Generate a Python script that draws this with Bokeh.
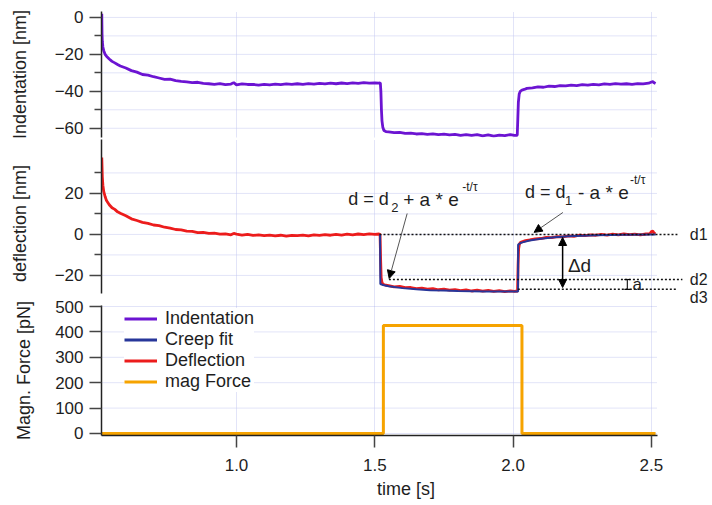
from bokeh.plotting import figure
from bokeh.layouts import column
from bokeh.models import (Range1d, FixedTicker, Grid, Label, Arrow, NormalHead, TeeHead,
                          Legend, LegendItem, NumeralTickFormatter)
from bokeh.embed import file_html
from bokeh.resources import INLINE

# ---------------- data ----------------
ind_t = [0.513, 0.5135, 0.514, 0.515, 0.517, 0.520, 0.525, 0.53, 0.54, 0.55, 0.56, 0.57, 0.58,
         0.60, 0.62, 0.64, 0.66, 0.68, 0.70, 0.72, 0.74, 0.76, 0.78, 0.80, 0.82, 0.84, 0.86,
         0.88, 0.90, 0.92, 0.94, 0.96, 0.98, 0.99, 1.00, 1.02, 1.04, 1.06, 1.08, 1.10, 1.12,
         1.14, 1.16, 1.18, 1.20, 1.22, 1.24, 1.26, 1.28, 1.30, 1.32, 1.34, 1.36, 1.38, 1.40,
         1.42, 1.44, 1.46, 1.48, 1.50, 1.515, 1.52, 1.522, 1.524, 1.526, 1.529, 1.533, 1.54,
         1.55, 1.57, 1.59, 1.61, 1.63, 1.65, 1.67, 1.69, 1.71, 1.73, 1.75, 1.77, 1.79, 1.81,
         1.83, 1.85, 1.87, 1.89, 1.91, 1.93, 1.95, 1.97, 1.99, 2.005, 2.015, 2.017, 2.019,
         2.022, 2.026, 2.032, 2.04, 2.05, 2.07, 2.09, 2.11, 2.13, 2.15, 2.17, 2.19, 2.21, 2.23,
         2.25, 2.27, 2.29, 2.31, 2.33, 2.35, 2.37, 2.39, 2.41, 2.43, 2.45, 2.47, 2.49, 2.50,
         2.505, 2.51, 2.515]
ind_nm = [2.0, -4.0, -9.0, -13.0, -16.0, -18.0, -20.0, -21.0, -22.5, -23.8, -24.6, -25.5, -26.3,
          -27.4, -28.8, -29.6, -30.9, -31.2, -32.1, -32.8, -33.5, -33.4, -34.2, -34.6, -34.9,
          -35.3, -35.1, -35.7, -35.9, -36.2, -35.8, -36.4, -36.1, -35.3, -36.5, -36.0, -36.3,
          -36.3, -36.6, -36.2, -36.5, -36.1, -36.4, -36.0, -36.3, -35.9, -36.2, -35.8, -36.1,
          -35.7, -36.0, -35.6, -35.9, -35.5, -35.8, -35.4, -35.7, -35.3, -35.6, -35.4, -35.6,
          -35.4, -40.0, -50.0, -56.0, -59.5, -61.2, -61.8, -62.0, -62.4, -62.2, -62.8, -62.6,
          -63.1, -62.9, -63.3, -63.0, -63.5, -63.2, -63.6, -63.3, -63.8, -63.4, -63.9, -63.5,
          -64.1, -63.6, -64.2, -63.7, -64.0, -63.4, -63.9, -63.8, -55.0, -46.0, -41.5, -40.0,
          -39.3, -39.0, -38.4, -38.1, -37.6, -37.8, -37.2, -37.4, -36.9, -37.1, -36.6, -36.9,
          -36.4, -36.7, -36.2, -36.5, -36.0, -36.3, -35.8, -36.1, -35.9, -36.2, -35.8, -36.0,
          -35.6, -35.0, -34.8, -35.4, -35.8]

defl_t = [0.513, 0.514, 0.515, 0.517, 0.52, 0.525, 0.53, 0.54, 0.55, 0.56, 0.57, 0.58, 0.60,
          0.62, 0.64, 0.66, 0.68, 0.70, 0.72, 0.74, 0.76, 0.78, 0.80, 0.82, 0.84, 0.86, 0.88,
          0.90, 0.92, 0.94, 0.96, 0.98, 0.99, 1.00, 1.02, 1.04, 1.06, 1.08, 1.10, 1.12, 1.14,
          1.16, 1.18, 1.20, 1.22, 1.24, 1.26, 1.28, 1.30, 1.32, 1.34, 1.36, 1.38, 1.40, 1.42,
          1.44, 1.46, 1.48, 1.50, 1.515, 1.519, 1.521, 1.523, 1.526, 1.53, 1.54, 1.55, 1.57,
          1.59, 1.61, 1.63, 1.65, 1.67, 1.69, 1.71, 1.73, 1.75, 1.77, 1.79, 1.81, 1.83, 1.85,
          1.87, 1.89, 1.91, 1.93, 1.95, 1.97, 1.99, 2.005, 2.016, 2.018, 2.020, 2.023, 2.027,
          2.035, 2.045, 2.06, 2.08, 2.10, 2.12, 2.14, 2.16, 2.18, 2.20, 2.22, 2.24, 2.26, 2.28,
          2.30, 2.32, 2.34, 2.36, 2.38, 2.40, 2.42, 2.44, 2.46, 2.48, 2.495, 2.50, 2.505, 2.51,
          2.515]
defl_nm = [37.5, 33.0, 28.0, 24.0, 21.0, 18.5, 16.5, 14.5, 13.0, 12.2, 11.0, 10.3, 9.1, 7.6,
           6.8, 5.9, 5.4, 4.6, 4.3, 3.5, 3.1, 2.4, 2.2, 1.6, 1.5, 0.9, 1.0, 0.5, 0.6, 0.1, 0.3,
           -0.2, 0.5, 0.1, -0.4, 0.0, -0.5, -0.2, -0.6, -0.3, -0.7, -0.4, -0.8, -0.5, -0.6, -0.3,
           -0.7, -0.2, -0.5, -0.1, -0.4, 0.0, -0.3, 0.1, -0.2, 0.2, -0.1, 0.3, 0.0, 0.2, 0.0,
           -12.0, -21.0, -23.5, -24.3, -24.8, -25.0, -25.6, -25.4, -26.0, -25.9, -26.4, -26.2,
           -26.7, -26.5, -27.0, -26.7, -27.2, -26.9, -27.4, -27.0, -27.6, -27.2, -27.7, -27.3,
           -27.8, -27.4, -27.9, -27.5, -27.8, -27.6, -15.0, -7.0, -4.6, -3.9, -3.5, -3.0, -2.7,
           -2.2, -2.0, -1.5, -1.6, -1.1, -1.2, -0.7, -0.9, -0.4, -0.6, -0.2, -0.4, 0.0, -0.3,
           0.1, -0.2, 0.2, -0.1, 0.1, -0.2, 0.2, 0.4, 1.4, 1.6, 0.6, 0.3]

fit_t = [1.519, 1.5201, 1.53, 1.55, 1.60, 1.65, 1.70, 1.75, 1.80, 1.90, 2.00, 2.018, 2.0181,
         2.03, 2.06, 2.10, 2.15, 2.20, 2.25, 2.30, 2.40, 2.515]
fit_nm = [0.0, -24.2, -24.7, -25.3, -26.2, -26.8, -27.2, -27.4, -27.6, -27.8, -27.9, -27.9,
          -5.0, -4.0, -3.0, -2.1, -1.4, -0.9, -0.6, -0.4, -0.2, 0.0]

force_t = [0.513, 1.531, 1.531, 2.032, 2.032, 2.515]
force_pN = [0, 0, 425, 425, 0, 0]

x_ticks = [1.0, 1.5, 2.0, 2.5]
ind_ticks = [0, -20, -40, -60]
ind_minor = [-10, -30, -50]
defl_ticks = [20, 0, -20]
defl_minor = [30, 10, -10]
force_ticks = [0, 100, 200, 300, 400, 500]

d_levels = [0.0, -22.0, -26.8]           # d1, d2, d3
d_names = ["d1", "d2", "d3"]
d_label_shift = [0, 0, -8]               # px, d3 label sits just under its line
level_x0 = [1.517, 1.551, 2.017]
level_x1 = [2.594, 2.612, 2.594]

# ---------------- style ----------------
FONT = "Liberation Sans"
TXT = "#1e1e1e"
C_IND = "#6c14d2"
C_FIT = "#27369a"
C_DEF = "#ec1c1c"
C_FOR = "#f6a300"
GRID = "#c4c8f0"

LEFT = 101          # frame left edge (px)
RIGHT_B = 0         # right border (px)
W = 710             # figure width
X0, X1 = 0.512, 2.522          # time span of the gridded plot area, 556 px wide
PX_PER_S = 556 / (X1 - X0)
XE = X0 + (W - LEFT - RIGHT_B) / PX_PER_S   # frame extends further right for d1..d3 labels
OVERLAP = 10        # bottom panel canvas overlaps the middle one (transparent)


def style_yaxis(p, label, ticks, minor, standoff, bounds=None):
    ax = p.yaxis[0]
    ax.ticker = FixedTicker(ticks=ticks, minor_ticks=minor)
    if bounds is not None:
        ax.bounds = bounds
    ax.axis_label = label
    ax.axis_label_text_font = FONT
    ax.axis_label_text_font_size = "18px"
    ax.axis_label_text_font_style = "normal"
    ax.axis_label_text_color = TXT
    ax.axis_label_standoff = standoff
    ax.major_label_text_font = FONT
    ax.major_label_text_font_size = "17px"
    ax.major_label_text_color = TXT
    ax.major_label_standoff = 6
    ax.axis_line_color = "#222222"
    ax.axis_line_width = 1.5
    ax.major_tick_line_color = "#444444"
    ax.major_tick_line_width = 1.5
    ax.major_tick_out = 12
    ax.major_tick_in = 0
    ax.minor_tick_line_color = "#444444" if minor else None
    ax.minor_tick_line_width = 1.5
    ax.minor_tick_out = 7
    ax.minor_tick_in = 0
    hg = ticks + minor
    p.segment(x0=[X0] * len(hg), y0=hg, x1=[X1] * len(hg), y1=hg,
              line_color=GRID, line_dash="1 1", line_width=1)
    p.add_layout(Grid(dimension=0, ticker=FixedTicker(ticks=x_ticks),
                      grid_line_color=GRID, grid_line_dash="1 1", grid_line_width=1))


def make_fig(height, yr, top, bottom, xaxis):
    p = figure(width=W, height=height, x_range=Range1d(X0, XE), y_range=yr,
               x_axis_location="below" if xaxis else None, y_axis_location="left",
               output_backend="svg", toolbar_location=None, title=None,
               min_border_left=LEFT, min_border_right=RIGHT_B,
               min_border_top=top, min_border_bottom=bottom)
    p.outline_line_color = None
    p.background_fill_color = "white"
    p.border_fill_color = "white"
    for g in p.grid:
        g.visible = False
    return p


# ---------------- top: indentation ----------------
p1 = make_fig(138, Range1d(-65, 3.2), 11, 1, False)
style_yaxis(p1, "Indentation [nm]", ind_ticks, ind_minor, 22)
p1.line(ind_t, ind_nm, line_color=C_IND, line_width=2.8)

# ---------------- middle: deflection (frame 139..307 px) ----------------
p2 = make_fig(169, Range1d(46.3 - 168 / 2.05, 46.3), 1, 0, False)
style_yaxis(p2, "deflection [nm]", defl_ticks, defl_minor, 22, bounds=(-28.8, 46.3))
p2.line(defl_t, defl_nm, line_color=C_DEF, line_width=2.8)
p2.line(fit_t, fit_nm, line_color=C_FIT, line_width=2)

# dotted level lines d1, d2, d3
p2.segment(x0=level_x0, y0=d_levels, x1=level_x1, y1=d_levels,
           line_color="#111111", line_width=1.5, line_dash="2 2")
for yv, name, dy in zip(d_levels, d_names, d_label_shift):
    p2.add_layout(Label(x=2.61, y=yv, text=name, x_offset=8, y_offset=dy, text_font=FONT,
                        text_font_size="16px", text_color=TXT, text_baseline="middle"))

# delta d double arrow
p2.add_layout(Arrow(x_start=2.179, y_start=-1.5, x_end=2.179, y_end=-25.9,
                    start=NormalHead(size=8, fill_color="black", line_color="black"),
                    end=NormalHead(size=8, fill_color="black", line_color="black"),
                    line_color="black", line_width=1.5))
p2.add_layout(Label(x=2.198, y=-15.0, text="Δd", text_font=FONT, text_font_size="19px",
                    text_color=TXT, text_baseline="middle"))
# a bracket
p2.add_layout(Arrow(x_start=2.413, y_start=-22.0, x_end=2.413, y_end=-26.8,
                    start=TeeHead(size=6, line_width=1.2), end=TeeHead(size=6, line_width=1.2),
                    line_color="#222222", line_width=1.2))
p2.add_layout(Label(x=2.432, y=-24.2, text="a", text_font=FONT, text_font_size="17px",
                    text_color=TXT, text_baseline="middle"))


def formula(x, y, sub, sign, sub_off, main_off, sup_off):
    p2.add_layout(Label(x=x, y=y, text="d = d", text_font=FONT, text_font_size="18px",
                        text_color=TXT, text_baseline="middle"))
    p2.add_layout(Label(x=x, y=y, x_offset=sub_off, y_offset=-8, text=sub, text_font=FONT,
                        text_font_size="13px", text_color=TXT, text_baseline="middle"))
    p2.add_layout(Label(x=x, y=y, x_offset=main_off, text=sign + " a * e", text_font=FONT,
                        text_font_size="19px", text_color=TXT, text_baseline="middle"))
    p2.add_layout(Label(x=x, y=y, x_offset=sup_off, y_offset=12, text="-t/τ", text_font=FONT,
                        text_font_size="12px", text_color=TXT, text_baseline="middle"))


formula(1.404, 17.1, "2", "+", 43, 55, 114)
formula(2.043, 20.5, "1", "-", 40, 53, 105)

p2.add_layout(Arrow(x_start=1.617, y_start=10.2, x_end=1.552, y_end=-21.5,
                    end=NormalHead(size=8, fill_color="black", line_color="black"),
                    line_color="#555555", line_width=1))
p2.add_layout(Arrow(x_start=2.180, y_start=10.7, x_end=2.076, y_end=1.0,
                    end=NormalHead(size=8, fill_color="black", line_color="black"),
                    line_color="#555555", line_width=1))

# ---------------- bottom: magnetic force (canvas starts at 297 px, transparent) ----------------
p3 = make_fig(206, Range1d(-8, 504), 8, 68, True)
p3.margin = (-OVERLAP, 0, 0, 0)
p3.background_fill_alpha = 0.0
p3.border_fill_alpha = 0.0
style_yaxis(p3, "Magn. Force [pN]", force_ticks, [], 18)
xa = p3.xaxis[0]
xa.bounds = (X0, X1)
xa.ticker = FixedTicker(ticks=x_ticks)
xa.formatter = NumeralTickFormatter(format="0.0")
xa.axis_label = "time [s]"
xa.axis_label_text_font = FONT
xa.axis_label_text_font_size = "18px"
xa.axis_label_text_font_style = "normal"
xa.axis_label_text_color = TXT
xa.axis_label_standoff = 5
xa.major_label_text_font = FONT
xa.major_label_text_font_size = "17px"
xa.major_label_text_color = TXT
xa.major_label_standoff = 11
xa.axis_line_color = "#222222"
xa.axis_line_width = 1.5
xa.major_tick_line_color = "#444444"
xa.major_tick_line_width = 1.5
xa.major_tick_out = 12
xa.major_tick_in = 0
xa.minor_tick_line_color = None

# hidden copies used only as legend entries for the series of the other panels
r_ind = p3.line(ind_t, ind_nm, line_color=C_IND, line_width=3, visible=False)
r_fit = p3.line(fit_t, fit_nm, line_color=C_FIT, line_width=3, visible=False)
r_def = p3.line(defl_t, defl_nm, line_color=C_DEF, line_width=3, visible=False)
r_for = p3.line(force_t, force_pN, line_color=C_FOR, line_width=3)

legend = Legend(items=[LegendItem(label="Indentation", renderers=[r_ind]),
                       LegendItem(label="Creep fit", renderers=[r_fit]),
                       LegendItem(label="Deflection", renderers=[r_def]),
                       LegendItem(label="mag Force", renderers=[r_for])],
                location=(23, 43), border_line_color=None, background_fill_color="white",
                background_fill_alpha=1.0, label_text_font=FONT, label_text_font_size="18px",
                label_text_color=TXT, glyph_width=33, glyph_height=21, label_height=21,
                spacing=0, padding=2, margin=0, label_standoff=8,
                inactive_fill_alpha=0.0, click_policy="none")
p3.add_layout(legend)

layout = column(p1, p2, p3, spacing=0)
open("out.html", "w").write(file_html(layout, INLINE))
